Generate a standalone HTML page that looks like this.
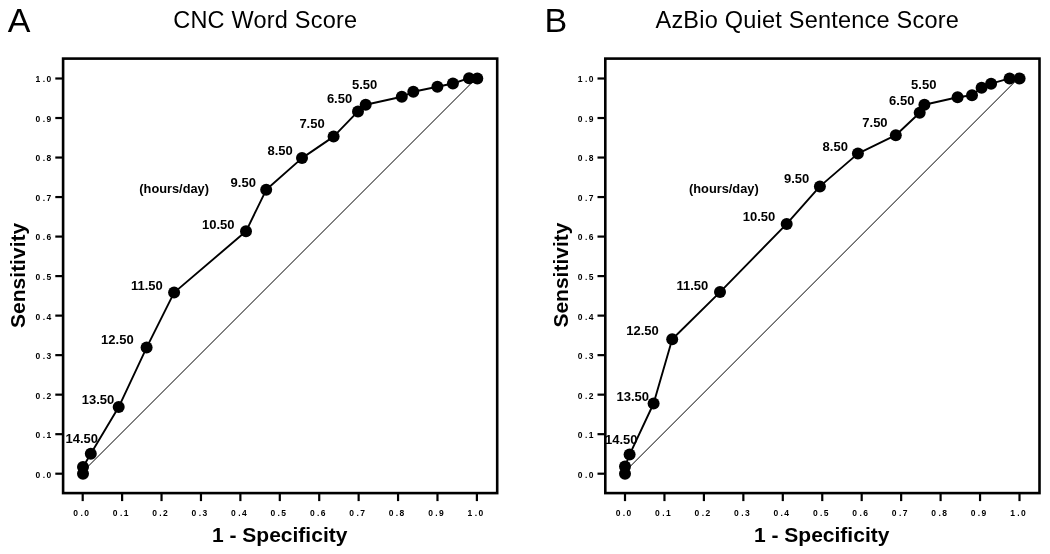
<!DOCTYPE html>
<html><head><meta charset="utf-8"><title>ROC curves</title>
<style>
html,body{margin:0;padding:0;background:#fff;}
body{width:1050px;height:554px;overflow:hidden;}
svg{display:block;will-change:transform;}
text{font-family:"Liberation Sans", sans-serif;fill:#000;}
.tk{font-size:8.5px;font-weight:bold;}
.lb{font-size:13px;font-weight:bold;}
.let{font-size:34px;}
.ttl{font-size:23.5px;letter-spacing:0.22px;}
.ax{font-size:21.0px;font-weight:bold;}
</style></head>
<body>
<svg width="1050" height="554" viewBox="0 0 1050 554">
<rect width="1050" height="554" fill="#fff"/>
<line x1="83" y1="471.5" x2="477" y2="77.5" stroke="#000" stroke-width="1.0"/>
<rect x="63.1" y="58.6" width="434.1" height="434.5" fill="none" stroke="#000" stroke-width="2.6"/>
<line x1="55.3" y1="473.7" x2="63.1" y2="473.7" stroke="#000" stroke-width="2.2"/>
<text x="35.55 42.68 46.44" y="477.6" class="tk">0.0</text>
<line x1="55.3" y1="434.18" x2="63.1" y2="434.18" stroke="#000" stroke-width="2.2"/>
<text x="35.55 42.68 46.44" y="438.08" class="tk">0.1</text>
<line x1="55.3" y1="394.66" x2="63.1" y2="394.66" stroke="#000" stroke-width="2.2"/>
<text x="35.55 42.68 46.44" y="398.56" class="tk">0.2</text>
<line x1="55.3" y1="355.14" x2="63.1" y2="355.14" stroke="#000" stroke-width="2.2"/>
<text x="35.55 42.68 46.44" y="359.04" class="tk">0.3</text>
<line x1="55.3" y1="315.62" x2="63.1" y2="315.62" stroke="#000" stroke-width="2.2"/>
<text x="35.55 42.68 46.44" y="319.52" class="tk">0.4</text>
<line x1="55.3" y1="276.1" x2="63.1" y2="276.1" stroke="#000" stroke-width="2.2"/>
<text x="35.55 42.68 46.44" y="280" class="tk">0.5</text>
<line x1="55.3" y1="236.58" x2="63.1" y2="236.58" stroke="#000" stroke-width="2.2"/>
<text x="35.55 42.68 46.44" y="240.48" class="tk">0.6</text>
<line x1="55.3" y1="197.06" x2="63.1" y2="197.06" stroke="#000" stroke-width="2.2"/>
<text x="35.55 42.68 46.44" y="200.96" class="tk">0.7</text>
<line x1="55.3" y1="157.54" x2="63.1" y2="157.54" stroke="#000" stroke-width="2.2"/>
<text x="35.55 42.68 46.44" y="161.44" class="tk">0.8</text>
<line x1="55.3" y1="118.02" x2="63.1" y2="118.02" stroke="#000" stroke-width="2.2"/>
<text x="35.55 42.68 46.44" y="121.92" class="tk">0.9</text>
<line x1="55.3" y1="78.5" x2="63.1" y2="78.5" stroke="#000" stroke-width="2.2"/>
<text x="35.55 42.68 46.44" y="82.4" class="tk">1.0</text>
<line x1="82.7" y1="493.1" x2="82.7" y2="501.1" stroke="#000" stroke-width="2.2"/>
<text x="73.36 80.49 84.25" y="515.7" class="tk">0.0</text>
<line x1="122.12" y1="493.1" x2="122.12" y2="501.1" stroke="#000" stroke-width="2.2"/>
<text x="112.78 119.91 123.67" y="515.7" class="tk">0.1</text>
<line x1="161.54" y1="493.1" x2="161.54" y2="501.1" stroke="#000" stroke-width="2.2"/>
<text x="152.2 159.33 163.09" y="515.7" class="tk">0.2</text>
<line x1="200.96" y1="493.1" x2="200.96" y2="501.1" stroke="#000" stroke-width="2.2"/>
<text x="191.62 198.75 202.51" y="515.7" class="tk">0.3</text>
<line x1="240.38" y1="493.1" x2="240.38" y2="501.1" stroke="#000" stroke-width="2.2"/>
<text x="231.04 238.17 241.93" y="515.7" class="tk">0.4</text>
<line x1="279.8" y1="493.1" x2="279.8" y2="501.1" stroke="#000" stroke-width="2.2"/>
<text x="270.46 277.59 281.35" y="515.7" class="tk">0.5</text>
<line x1="319.22" y1="493.1" x2="319.22" y2="501.1" stroke="#000" stroke-width="2.2"/>
<text x="309.88 317.01 320.77" y="515.7" class="tk">0.6</text>
<line x1="358.64" y1="493.1" x2="358.64" y2="501.1" stroke="#000" stroke-width="2.2"/>
<text x="349.3 356.43 360.19" y="515.7" class="tk">0.7</text>
<line x1="398.06" y1="493.1" x2="398.06" y2="501.1" stroke="#000" stroke-width="2.2"/>
<text x="388.72 395.85 399.61" y="515.7" class="tk">0.8</text>
<line x1="437.48" y1="493.1" x2="437.48" y2="501.1" stroke="#000" stroke-width="2.2"/>
<text x="428.14 435.27 439.03" y="515.7" class="tk">0.9</text>
<line x1="476.9" y1="493.1" x2="476.9" y2="501.1" stroke="#000" stroke-width="2.2"/>
<text x="467.56 474.69 478.45" y="515.7" class="tk">1.0</text>
<polyline points="83,473.8 83,466.9 90.8,453.8 118.7,407.1 146.6,347.6 174.1,292.6 246,231.3 266.2,189.8 302,158.1 333.6,136.6 358,111.4 365.7,104.8 401.8,96.8 413.3,91.8 437.4,86.7 452.9,83.5 469.1,78.2 477.3,78.5" fill="none" stroke="#000" stroke-width="1.9" stroke-linejoin="round"/>
<circle cx="83" cy="473.8" r="6.0"/>
<circle cx="83" cy="466.9" r="6.0"/>
<circle cx="90.8" cy="453.8" r="6.0"/>
<circle cx="118.7" cy="407.1" r="6.0"/>
<circle cx="146.6" cy="347.6" r="6.0"/>
<circle cx="174.1" cy="292.6" r="6.0"/>
<circle cx="246" cy="231.3" r="6.0"/>
<circle cx="266.2" cy="189.8" r="6.0"/>
<circle cx="302" cy="158.1" r="6.0"/>
<circle cx="333.6" cy="136.6" r="6.0"/>
<circle cx="358" cy="111.4" r="6.0"/>
<circle cx="365.7" cy="104.8" r="6.0"/>
<circle cx="401.8" cy="96.8" r="6.0"/>
<circle cx="413.3" cy="91.8" r="6.0"/>
<circle cx="437.4" cy="86.7" r="6.0"/>
<circle cx="452.9" cy="83.5" r="6.0"/>
<circle cx="469.1" cy="78.2" r="6.0"/>
<circle cx="477.3" cy="78.5" r="6.0"/>
<text x="65.5" y="443.3" class="lb">14.50</text>
<text x="81.7" y="404.4" class="lb">13.50</text>
<text x="101.1" y="343.6" class="lb">12.50</text>
<text x="130.9" y="289.9" class="lb">11.50</text>
<text x="202" y="228.6" class="lb">10.50</text>
<text x="230.6" y="186.5" class="lb">9.50</text>
<text x="267.5" y="155" class="lb">8.50</text>
<text x="299.4" y="128.3" class="lb">7.50</text>
<text x="326.9" y="103.3" class="lb">6.50</text>
<text x="352" y="89.2" class="lb">5.50</text>
<text x="139.3" y="193.1" class="lb" style="font-size:12.8px">(hours/day)</text>
<text x="7.7" y="32.2" class="let">A</text>
<text x="173.2" y="28" class="ttl">CNC Word Score</text>
<text transform="translate(25.4,327.9) rotate(-90)" class="ax">Sensitivity</text>
<text x="212" y="542" class="ax">1 - Specificity</text>
<line x1="625" y1="471.6" x2="1019.5" y2="77.1" stroke="#000" stroke-width="1.0"/>
<rect x="605.3" y="58.6" width="434.2" height="434.5" fill="none" stroke="#000" stroke-width="2.6"/>
<line x1="597.5" y1="473.7" x2="605.3" y2="473.7" stroke="#000" stroke-width="2.2"/>
<text x="577.75 584.88 588.64" y="477.6" class="tk">0.0</text>
<line x1="597.5" y1="434.18" x2="605.3" y2="434.18" stroke="#000" stroke-width="2.2"/>
<text x="577.75 584.88 588.64" y="438.08" class="tk">0.1</text>
<line x1="597.5" y1="394.66" x2="605.3" y2="394.66" stroke="#000" stroke-width="2.2"/>
<text x="577.75 584.88 588.64" y="398.56" class="tk">0.2</text>
<line x1="597.5" y1="355.14" x2="605.3" y2="355.14" stroke="#000" stroke-width="2.2"/>
<text x="577.75 584.88 588.64" y="359.04" class="tk">0.3</text>
<line x1="597.5" y1="315.62" x2="605.3" y2="315.62" stroke="#000" stroke-width="2.2"/>
<text x="577.75 584.88 588.64" y="319.52" class="tk">0.4</text>
<line x1="597.5" y1="276.1" x2="605.3" y2="276.1" stroke="#000" stroke-width="2.2"/>
<text x="577.75 584.88 588.64" y="280" class="tk">0.5</text>
<line x1="597.5" y1="236.58" x2="605.3" y2="236.58" stroke="#000" stroke-width="2.2"/>
<text x="577.75 584.88 588.64" y="240.48" class="tk">0.6</text>
<line x1="597.5" y1="197.06" x2="605.3" y2="197.06" stroke="#000" stroke-width="2.2"/>
<text x="577.75 584.88 588.64" y="200.96" class="tk">0.7</text>
<line x1="597.5" y1="157.54" x2="605.3" y2="157.54" stroke="#000" stroke-width="2.2"/>
<text x="577.75 584.88 588.64" y="161.44" class="tk">0.8</text>
<line x1="597.5" y1="118.02" x2="605.3" y2="118.02" stroke="#000" stroke-width="2.2"/>
<text x="577.75 584.88 588.64" y="121.92" class="tk">0.9</text>
<line x1="597.5" y1="78.5" x2="605.3" y2="78.5" stroke="#000" stroke-width="2.2"/>
<text x="577.75 584.88 588.64" y="82.4" class="tk">1.0</text>
<line x1="625" y1="493.1" x2="625" y2="501.1" stroke="#000" stroke-width="2.2"/>
<text x="615.66 622.79 626.55" y="515.7" class="tk">0.0</text>
<line x1="664.45" y1="493.1" x2="664.45" y2="501.1" stroke="#000" stroke-width="2.2"/>
<text x="655.11 662.24 666" y="515.7" class="tk">0.1</text>
<line x1="703.9" y1="493.1" x2="703.9" y2="501.1" stroke="#000" stroke-width="2.2"/>
<text x="694.56 701.69 705.45" y="515.7" class="tk">0.2</text>
<line x1="743.35" y1="493.1" x2="743.35" y2="501.1" stroke="#000" stroke-width="2.2"/>
<text x="734.01 741.14 744.9" y="515.7" class="tk">0.3</text>
<line x1="782.8" y1="493.1" x2="782.8" y2="501.1" stroke="#000" stroke-width="2.2"/>
<text x="773.46 780.59 784.35" y="515.7" class="tk">0.4</text>
<line x1="822.25" y1="493.1" x2="822.25" y2="501.1" stroke="#000" stroke-width="2.2"/>
<text x="812.91 820.04 823.8" y="515.7" class="tk">0.5</text>
<line x1="861.7" y1="493.1" x2="861.7" y2="501.1" stroke="#000" stroke-width="2.2"/>
<text x="852.36 859.49 863.25" y="515.7" class="tk">0.6</text>
<line x1="901.15" y1="493.1" x2="901.15" y2="501.1" stroke="#000" stroke-width="2.2"/>
<text x="891.81 898.94 902.7" y="515.7" class="tk">0.7</text>
<line x1="940.6" y1="493.1" x2="940.6" y2="501.1" stroke="#000" stroke-width="2.2"/>
<text x="931.26 938.39 942.15" y="515.7" class="tk">0.8</text>
<line x1="980.05" y1="493.1" x2="980.05" y2="501.1" stroke="#000" stroke-width="2.2"/>
<text x="970.71 977.84 981.6" y="515.7" class="tk">0.9</text>
<line x1="1019.5" y1="493.1" x2="1019.5" y2="501.1" stroke="#000" stroke-width="2.2"/>
<text x="1010.16 1017.29 1021.05" y="515.7" class="tk">1.0</text>
<polyline points="625,473.8 625,466.5 629.6,454.6 653.6,403.5 672.2,339.3 720,292.1 786.7,223.9 819.9,186.4 857.9,153.6 895.8,135.2 919.7,112.7 924.4,104.7 957.6,97.3 972,95.3 981.6,87.7 991.1,83.7 1009.6,78.4 1019.6,78.4" fill="none" stroke="#000" stroke-width="1.9" stroke-linejoin="round"/>
<circle cx="625" cy="473.8" r="6.0"/>
<circle cx="625" cy="466.5" r="6.0"/>
<circle cx="629.6" cy="454.6" r="6.0"/>
<circle cx="653.6" cy="403.5" r="6.0"/>
<circle cx="672.2" cy="339.3" r="6.0"/>
<circle cx="720" cy="292.1" r="6.0"/>
<circle cx="786.7" cy="223.9" r="6.0"/>
<circle cx="819.9" cy="186.4" r="6.0"/>
<circle cx="857.9" cy="153.6" r="6.0"/>
<circle cx="895.8" cy="135.2" r="6.0"/>
<circle cx="919.7" cy="112.7" r="6.0"/>
<circle cx="924.4" cy="104.7" r="6.0"/>
<circle cx="957.6" cy="97.3" r="6.0"/>
<circle cx="972" cy="95.3" r="6.0"/>
<circle cx="981.6" cy="87.7" r="6.0"/>
<circle cx="991.1" cy="83.7" r="6.0"/>
<circle cx="1009.6" cy="78.4" r="6.0"/>
<circle cx="1019.6" cy="78.4" r="6.0"/>
<text x="605" y="443.9" class="lb">14.50</text>
<text x="616.5" y="401.1" class="lb">13.50</text>
<text x="626.3" y="335.4" class="lb">12.50</text>
<text x="676.5" y="289.9" class="lb">11.50</text>
<text x="742.8" y="221.3" class="lb">10.50</text>
<text x="784" y="182.7" class="lb">9.50</text>
<text x="822.6" y="150.5" class="lb">8.50</text>
<text x="862.3" y="127.1" class="lb">7.50</text>
<text x="889.1" y="104.8" class="lb">6.50</text>
<text x="911.1" y="89" class="lb">5.50</text>
<text x="689" y="192.7" class="lb" style="font-size:12.8px">(hours/day)</text>
<text x="544.6" y="32" class="let">B</text>
<text x="655.5" y="28.4" class="ttl">AzBio Quiet Sentence Score</text>
<text transform="translate(567.5,327.6) rotate(-90)" class="ax">Sensitivity</text>
<text x="754" y="542" class="ax">1 - Specificity</text>
</svg>
</body></html>
